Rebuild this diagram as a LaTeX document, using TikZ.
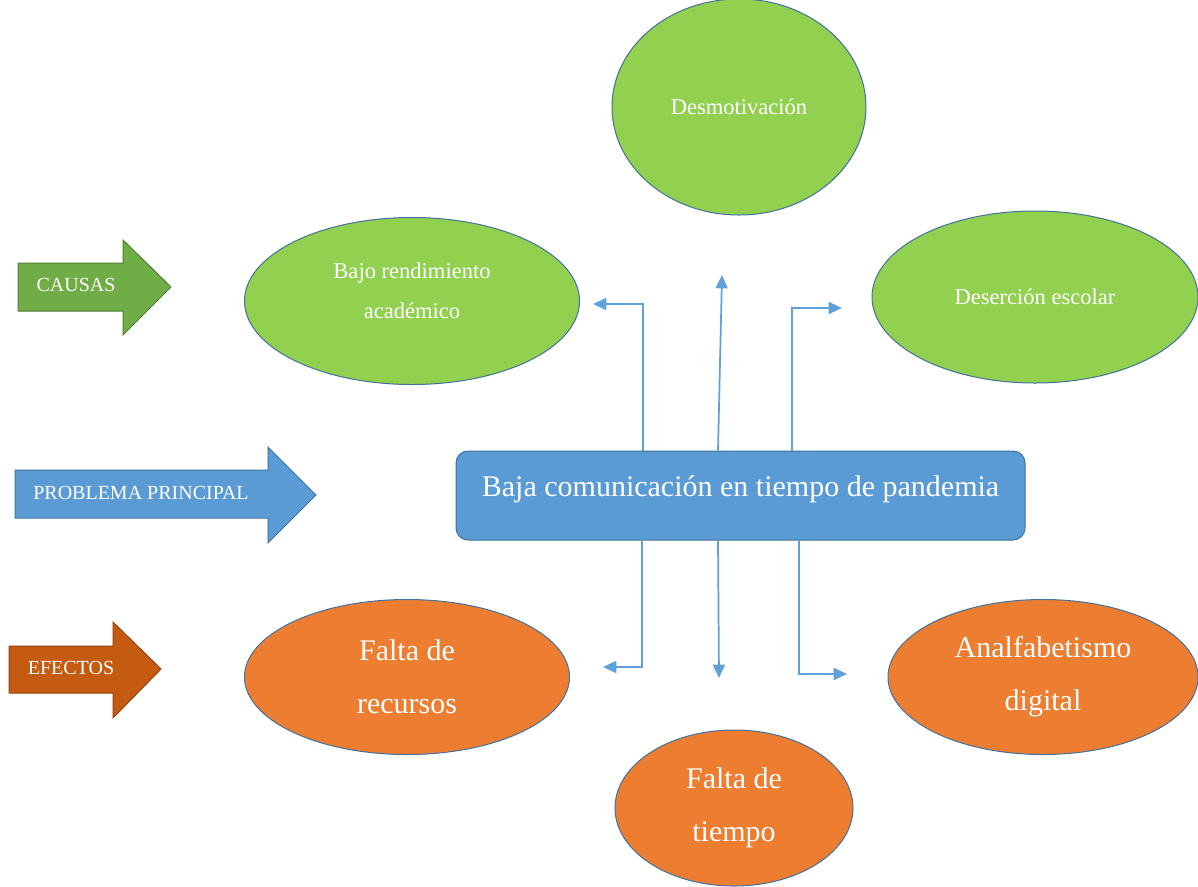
\documentclass[tikz,border=0pt]{standalone}
\usepackage{fontspec}
\setmainfont{Liberation Serif}
\usetikzlibrary{arrows.meta,shapes.geometric}

\definecolor{causaGreen}{RGB}{112,173,71}
\definecolor{causaLine}{RGB}{80,126,50}
\definecolor{leafGreen}{RGB}{146,208,80}
\definecolor{probBlue}{RGB}{91,155,213}
\definecolor{edgeBlue}{RGB}{65,113,156}
\definecolor{connBlue}{RGB}{96,160,218}
\definecolor{efecOrange}{RGB}{237,125,49}
\definecolor{efecBrown}{RGB}{197,90,17}
\definecolor{efecLine}{RGB}{150,70,20}

\tikzset{every picture/.style={line width=0.75pt}}
\tikzset{
  causa/.style={ellipse,draw=edgeBlue,fill=leafGreen,text=white,inner sep=0pt,align=center,font=\fontsize{16.9}{30}\selectfont},
  efecto/.style={ellipse,draw=edgeBlue,fill=efecOrange,text=white,inner sep=0pt,align=center,font=\fontsize{22.5}{39.75}\selectfont},
  tag/.style={text=white,inner sep=0pt,font=\fontsize{15}{17}\selectfont},
  conn/.style={draw=connBlue,line width=1.3pt,-{Triangle[length=10pt,width=9pt]}}
}

\begin{document}
\begin{tikzpicture}[x=0.75pt,y=0.75pt,yscale=-1,xscale=1]
	\useasboundingbox (0,0) rectangle (1198,886);

	%Shape: Right Arrow [id:causas]
	\draw  [draw=causaLine][fill=causaGreen] (18,263) -- (123,263) -- (123,240) -- (171,287) -- (123,335) -- (123,311) -- (18,311) -- cycle ;
	\node [tag] (lblCausas) at (76,285) {CAUSAS};
	%Shape: Right Arrow [id:problema]
	\draw  [draw=edgeBlue][fill=probBlue] (15,470) -- (268,470) -- (268,447) -- (316,495) -- (268,543) -- (268,518) -- (15,518) -- cycle ;
	\node [tag] (lblProblema) at (141,493) {PROBLEMA PRINCIPAL};
	%Shape: Right Arrow [id:efectos]
	\draw  [draw=efecLine][fill=efecBrown] (9,646) -- (113,646) -- (113,622) -- (161,669) -- (113,718) -- (113,693) -- (9,693) -- cycle ;
	\node [tag] (lblEfectos) at (71,668) {EFECTOS};

	%Shape: Ellipse [id:causas]
	\node [causa,minimum width=190.5pt,minimum height=162pt] (desmot) at (739,107) {Desmotivación};
	\node [causa,minimum width=251.25pt,minimum height=125.25pt,text depth=16pt] (bajoRend) at (412,301) {Bajo rendimiento\\académico};
	\node [causa,minimum width=244.5pt,minimum height=129pt] (desercion) at (1035,297) {Deserción escolar};

	%Shape: Ellipse [id:efectos]
	\node [efecto,minimum width=243.75pt,minimum height=116.25pt] (recursos) at (407,677) {Falta de\\recursos};
	\node [efecto,minimum width=232.5pt,minimum height=116.25pt] (analfab) at (1043,677) {Analfabetismo\\digital};
	\node [efecto,minimum width=178.5pt,minimum height=117pt] (tiempo) at (734,808) {Falta de\\tiempo};

	%Shape: Rounded Rect [id:problema]
	\node [draw=edgeBlue,fill=probBlue,rounded corners=9pt,minimum width=426.75pt,minimum height=66.75pt,text=white,text depth=14pt,font=\fontsize{22.5}{26}\selectfont] (prob) at (740.5,495.5) {Baja comunicación en tiempo de pandemia};

	%Connectors
	\coordinate (kBajo) at (643,304);
	\coordinate (tBajo) at (593,304);
	\coordinate (sDesm) at (718,0);
	\coordinate (tDesm) at (722,275);
	\coordinate (kDeser) at (792,308);
	\coordinate (tDeser) at (842,308);
	\coordinate (kRecur) at (642,667);
	\coordinate (tRecur) at (603,667);
	\coordinate (tTiempo) at (719,678);
	\coordinate (kAnalf) at (799,674);
	\coordinate (tAnalf) at (847,674);
	\draw [conn] (prob.north -| kBajo) |- (tBajo);
	\draw [conn] (prob.north -| sDesm) -- (tDesm);
	\draw [conn] (prob.north -| kDeser) |- (tDeser);
	\draw [conn] (prob.south -| kRecur) |- (tRecur);
	\draw [conn] (prob.south -| sDesm) -- (tTiempo);
	\draw [conn] (prob.south -| kAnalf) |- (tAnalf);

\end{tikzpicture}
\end{document}
